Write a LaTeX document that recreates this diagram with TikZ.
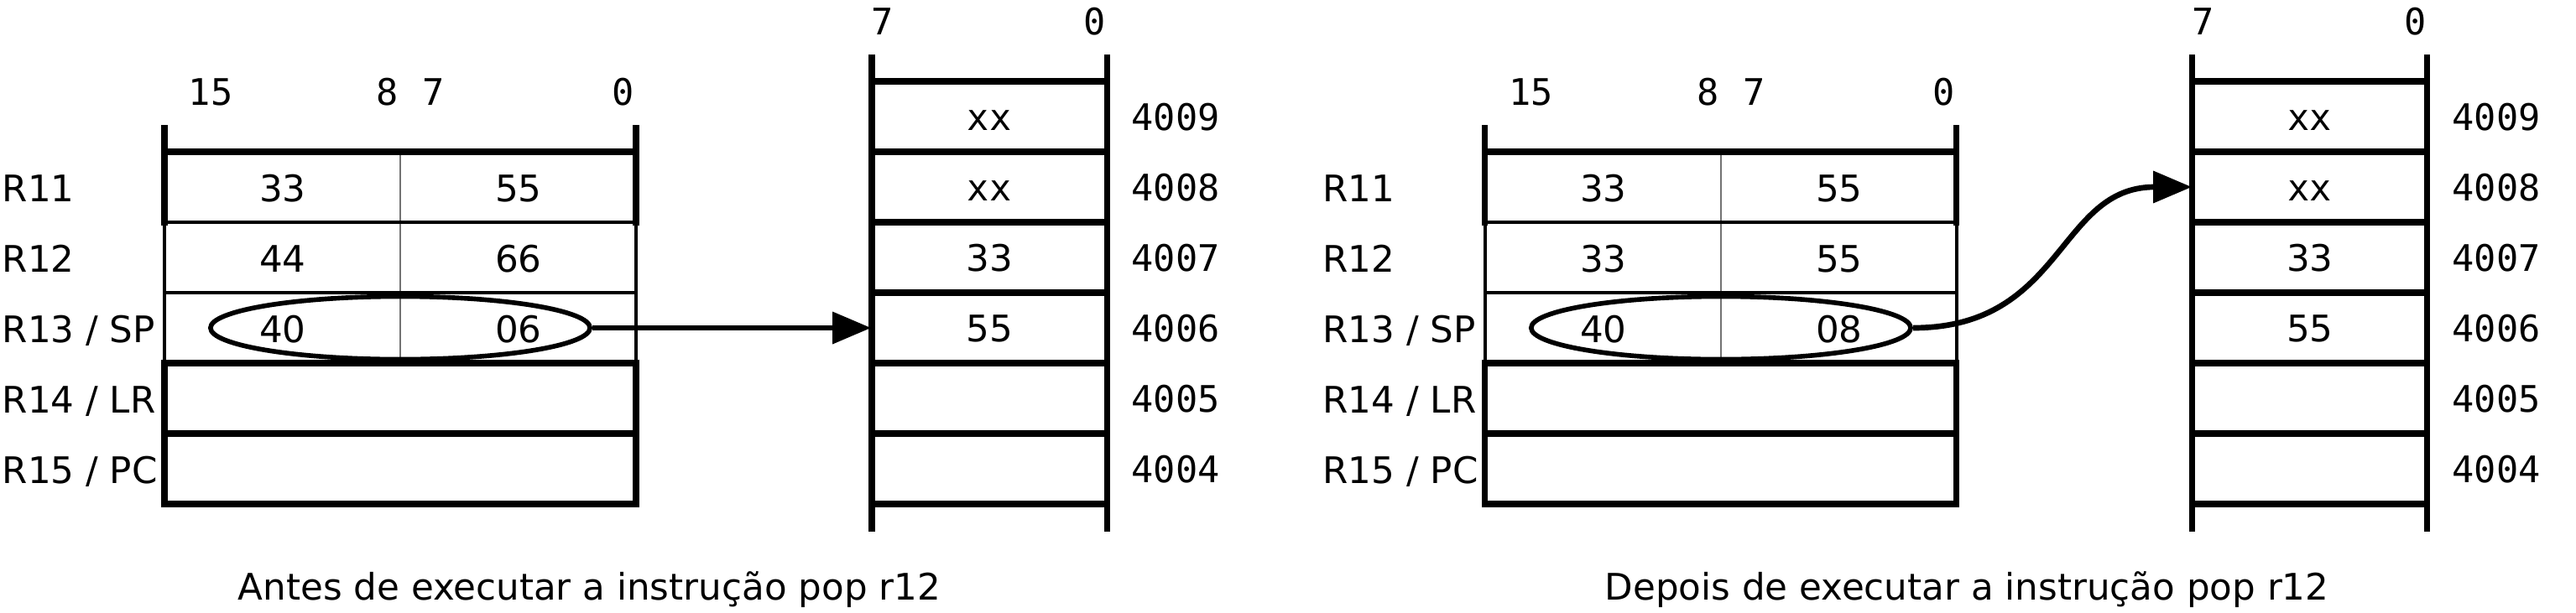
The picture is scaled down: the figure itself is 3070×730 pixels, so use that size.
\documentclass[tikz,border=0pt]{standalone}
\usepackage{fontspec}
\setmainfont{DejaVu Sans}
\newfontfamily\monofnt{DejaVu Sans Mono}
\usetikzlibrary{arrows.meta,shapes.geometric}

\newcommand\regpanel[5]{%
% #1 xshift, #2 prefix, #3 R12 hi, #4 R12 lo, #5 R13 lo
\begin{scope}[xshift=#1]
  % bit labels
  \node[monolbl] (#2b15) at (251,125) {15};
  \node[monolbl] (#2b8)  at (462,125) {8};
  \node[monolbl] (#2b7)  at (517,125) {7};
  \node[monolbl] (#2b0)  at (743,125) {0};
  \node[monolbl] (#2mb7) at (1052,41) {7};
  \node[monolbl] (#2mb0) at (1305,41) {0};
  % register names
  \node[lbl,anchor=base west] (#2n11) at (2,240) {R11};
  \node[lbl,anchor=base west] (#2n12) at (2,324) {R12};
  \node[lbl,anchor=base west] (#2n13) at (2,408) {R13 / SP};
  \node[lbl,anchor=base west] (#2n14) at (2,492) {R14 / LR};
  \node[lbl,anchor=base west] (#2n15) at (2,576) {R15 / PC};
  % register frame
  \draw[divln] (477,181) -- (477,433);
  \draw[thinln] (196,265) -- (758,265);
  \draw[thinln] (196,349) -- (758,349);
  \draw[thinln] (196,265) -- (196,433);
  \draw[thinln] (758,265) -- (758,433);
  \draw[thickln] (196,153) -- (196,265);
  \draw[thickln] (758,153) -- (758,265);
  \draw[thickln] (196,433) -- (196,601);
  \draw[thickln] (758,433) -- (758,601);
  \foreach \yy in {181,433,517,601} \draw[thickln] (196,\yy) -- (758,\yy);
  % register values
  \node[lbl] (#2r11h) at (337,240) {33};
  \node[lbl] (#2r11l) at (618,240) {55};
  \node[lbl] (#2r12h) at (337,324) {#3};
  \node[lbl] (#2r12l) at (618,324) {#4};
  \node[lbl] (#2r13h) at (337,408) {40};
  \node[lbl] (#2r13l) at (618,408) {#5};
  \node[draw, ellipse, inner sep=0pt, line width=1.6pt,
        minimum width=4.52cm, minimum height=0.75cm] (#2sp) at (477,391) {};
  % memory column
  \draw[thickln] (1039,69) -- (1039,630);
  \draw[thickln] (1319,69) -- (1319,630);
  \foreach \yy in {97,181,265,349,433,517,601} \draw[thickln] (1039,\yy) -- (1319,\yy);
  \foreach \addr/\yc in {4009/139, 4008/223, 4007/307, 4006/391, 4005/475, 4004/559}{
    \node[memcell] (#2m\addr) at (1179,\yc) {};
    \node[monolbl,anchor=base west] (#2a\addr) at (1348,\yc+16.5) {\addr};
  }
  \node[monolbl] (#2v4009) at (1179,155.5) {xx};
  \node[monolbl] (#2v4008) at (1179,239.5) {xx};
  \node[lbl] (#2v4007) at (1179,323.5) {33};
  \node[lbl] (#2v4006) at (1179,407.5) {55};
\end{scope}}

\begin{document}
\begin{tikzpicture}[x=0.01cm,y=-0.01cm,
  font=\fontsize{12.4pt}{15pt}\selectfont,
  thickln/.style={line width=2.0pt, line cap=rect},
  thinln/.style={line width=1.15pt},
  divln/.style={line width=0.35pt, black!55},
  lbl/.style={inner sep=0pt, anchor=base},
  monolbl/.style={lbl, font=\fontsize{12.4pt}{15pt}\selectfont\monofnt},
  memcell/.style={inner sep=0pt, minimum width=2.8cm, minimum height=0.84cm},
  arrowln/.style={line width=1.9pt, -{Triangle[length=0.46cm, width=0.37cm]}}]
\useasboundingbox (0,0) rectangle (3070,730);

\regpanel{0cm}{L}{44}{66}{06}
\regpanel{15.73cm}{R}{33}{55}{08}

\draw[arrowln] (Lsp.east) -- (Lm4006.west);
\draw[arrowln] (Rsp.east) .. controls +(180,0) and +(-160,0) .. (Rm4008.west);

\node[lbl,anchor=base west] (capL) at (283,715) {Antes de executar a instrução pop r12};
\node[lbl,anchor=base west] (capR) at (1912,715) {Depois de executar a instrução pop r12};
\end{tikzpicture}
\end{document}
